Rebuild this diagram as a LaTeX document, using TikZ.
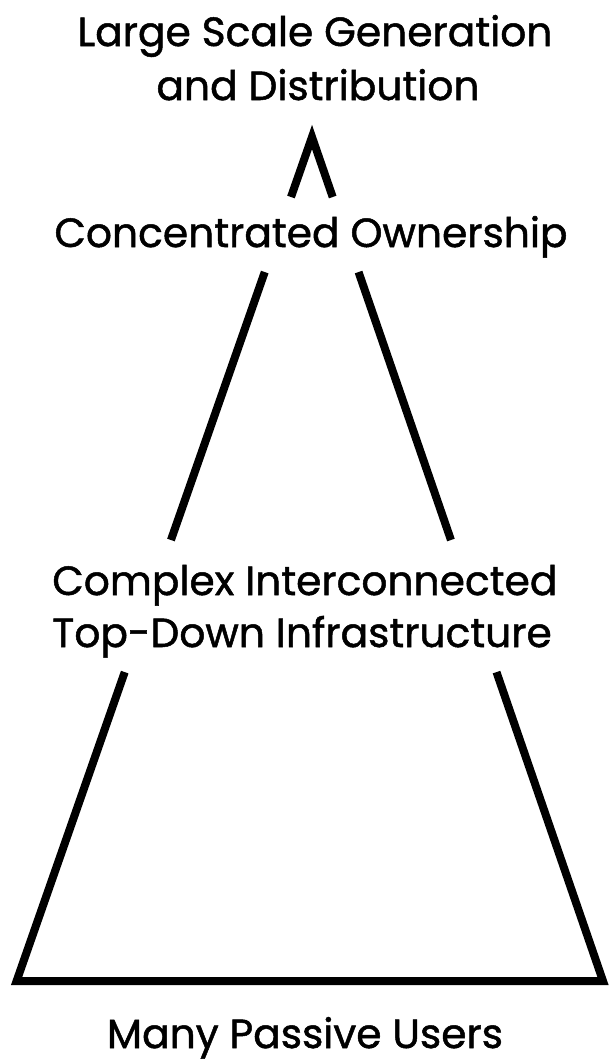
\documentclass[tikz,border=0pt]{standalone}
\usepackage{fontspec}
\newfontfamily\pyrfont{Poppins}[FakeBold=1.2]
\usetikzlibrary{calc}
\begin{document}
\begin{tikzpicture}[x=0.025cm,y=-0.025cm,
    pyredge/.style={line width=0.2cm, line join=miter},
    pyrlabel/.style={anchor=base, inner sep=0pt, font=\pyrfont\fontsize{29}{35}\selectfont}]
    % Khung hình
    \useasboundingbox (0,0) rectangle (610,1061);
    % Các đỉnh tam giác
    \coordinate (apex) at (312,137);
    \coordinate (bl) at (16.6,981);
    \coordinate (br) at (603,981);
    % Các điểm cắt trên hai cạnh bên
    \coordinate (l1) at ($(apex)!0.0711!(bl)$);
    \coordinate (r1) at ($(apex)!0.0711!(br)$);
    \coordinate (l2) at ($(apex)!0.16!(bl)$);
    \coordinate (r2) at ($(apex)!0.16!(br)$);
    \coordinate (l3) at ($(apex)!0.4775!(bl)$);
    \coordinate (r3) at ($(apex)!0.4775!(br)$);
    \coordinate (l4) at ($(apex)!0.634!(bl)$);
    \coordinate (r4) at ($(apex)!0.634!(br)$);

    % Vẽ các cạnh
    \draw[pyredge] (l1) -- (apex) -- (r1);
    \draw[pyredge] (l2) -- (l3);
    \draw[pyredge] (r2) -- (r3);
    \draw[pyredge] (l4) -- (bl) -- (br) -- (r4);

    % Chữ ở đỉnh
    \node[pyrlabel] (gen1) at (315,46) {Large Scale Generation};
    \node[pyrlabel] (gen2) at (318,100) {and Distribution};
    % Chữ giữa
    \node[pyrlabel] (owner) at (311,247) {Concentrated Ownership};
    \node[pyrlabel, anchor=base west] (infra1) at (52,595) {Complex Interconnected};
    \node[pyrlabel, anchor=base west] (infra2) at (52,647) {Top-Down Infrastructure};
    % Chữ ở đáy
    \node[pyrlabel] (users) at (305,1048) {Many Passive Users};
\end{tikzpicture}
\end{document}
